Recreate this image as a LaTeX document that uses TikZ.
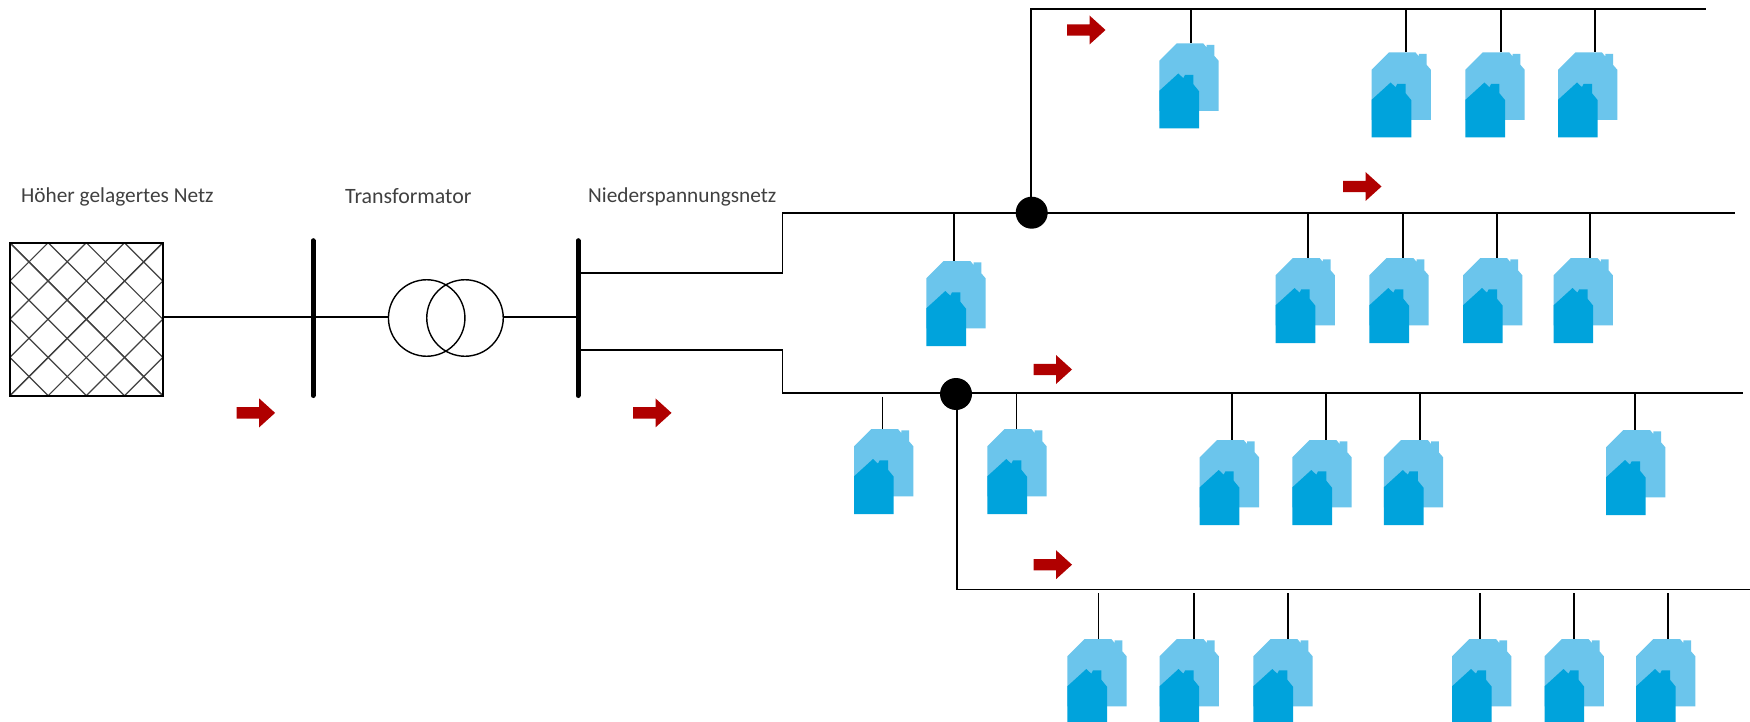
\documentclass[tikz,border=0pt]{standalone}
\usepackage{fontspec}
\setmainfont{Carlito}
\definecolor{houseback}{HTML}{6BC5EC}
\definecolor{housefront}{HTML}{00A3DC}
\definecolor{flowred}{HTML}{B00000}
\definecolor{labelgrey}{HTML}{404040}
\tikzset{
  wire/.style={draw=black,line width=1.8pt},
  thinwire/.style={draw=black,line width=1.8pt},
  busbar/.style={draw=black,line width=5pt,line cap=round},
  junction/.style={circle,fill=black,minimum size=32pt,inner sep=0pt},
  label/.style={anchor=west,inner sep=0pt,font=\fontsize{21.3pt}{24pt}\selectfont,text=labelgrey},
  hatch/.style={draw=black!75,line width=1.2pt},
  pics/house/.style={code={
    \fill[houseback] (0,17.3)--(17.3,0)--(44,0)--(47.3,4)--(47.3,1.3)--(55,1.3)--(55,12.3)--(59.3,17.3)--(59.3,67.3)--(0,67.3)--cycle;
    \fill[housefront] (0,47.3)--(19,30)--(24,34.7)--(25.7,31.3)--(34,31.3)--(34,40.7)--(39.7,47.7)--(39.7,85)--(0,85)--cycle;
  }},
  pics/flow/.style={code={
    \fill[flowred] (-19,-5.7)--(3.5,-5.7)--(3.5,-14.5)--(19.5,0)--(3.5,14.5)--(3.5,5.7)--(-19,5.7)--cycle;
  }}
}
\begin{document}
\begin{tikzpicture}[x=1pt,y=-1pt]
\useasboundingbox (0,0) rectangle (1750,722);
\clip (0,0) rectangle (1750,722);
\fill[white] (0,0) rectangle (1750,722);

% labels
\node[label] (l1) at (21,196.5) {Höher gelagertes Netz};
\node[label,font=\fontsize{21.9pt}{24pt}\selectfont] (l2) at (345,196.5) {Transformator};
\node[label] (l3) at (588,196.5) {Niederspannungsnetz};

% upstream grid
\foreach \k in {1,...,4}{
  \pgfmathsetmacro{\d}{38.18*\k}
  \draw[hatch] (10,242.7+\d) -- (10+\d,242.7);
  \draw[hatch] (162.7-\d,395.7) -- (162.7,395.7-\d);
  \draw[hatch] (10,395.7-\d) -- (10+\d,395.7);
  \draw[hatch] (162.7-\d,242.7) -- (162.7,242.7+\d);
}
\node[draw=black,line width=2pt,minimum width=152.7pt,minimum height=153pt,inner sep=0pt] (grid) at (86.35,319.2) {};

% bus bars
\coordinate (b1a) at (313,240.7);
\coordinate (b1b) at (313,395.5);
\coordinate (b2a) at (578,240.7);
\coordinate (b2b) at (578,395.5);
\draw[busbar] (b1a) -- (b1b);
\draw[busbar] (b2a) -- (b2b);

% transformer
\node[circle,draw=black,line width=1.4pt,minimum size=76.5pt,inner sep=0pt] (t1) at (426.7,318) {};
\node[circle,draw=black,line width=1.4pt,minimum size=76.5pt,inner sep=0pt] (t2) at (465,318) {};
\coordinate (b1m) at (313,317);
\coordinate (b2m) at (578,317);
\draw[wire] (grid.east |- b1m) -- (b1m) -- (t1.west |- b1m);
\draw[wire] (t2.east |- b2m) -- (b2m);

% junctions
\node[junction] (j1) at (1031.7,212.7) {};
\node[junction] (j2) at (956,394) {};

% feeders
\coordinate (b2u) at (578,273.3);
\coordinate (b2l) at (578,349.7);
\coordinate (f1e) at (1735,212.7);
\coordinate (f2e) at (1743,393.3);
\coordinate (f3) at (1030.7,9);
\coordinate (f3e) at (1706,9);
\coordinate (f4) at (956.8,589.5);
\coordinate (f4e) at (1750,589.5);
\draw[wire] (b2u) -- (782.4,273.3) -- (782.4,212.7) -- (f1e);
\draw[wire] (b2l) -- (782.4,349.7) -- (782.4,393.3) -- (f2e);
\draw[wire] (f3 |- j1) -- (f3) -- (f3e);
\draw[wire] (f4 |- j2) -- (f4) -- (f4e);

% houses: stub x / house left / top y / start of stub
\foreach \sx/\hx/\ty/\by in {
  1191/1159.3/43.5/9, 1406/1371.6/52.5/9, 1501/1465.4/52.5/9, 1595/1558/52.5/9,
  954/926.3/261/212.7, 1308/1275.6/258/212.7, 1403/1369.3/258/212.7, 1497/1463/258/212.7, 1590/1553.5/258/212.7,
  882.5/854/429/396.7, 1016.5/987.3/429/393.3, 1232/1199.7/440/393.3, 1326/1292.3/440/393.3, 1420/1383.8/440/393.3, 1635/1606/430/393.3,
  1098.5/1067.3/639/593, 1194/1159.5/639/593, 1288/1253.3/639/593, 1480/1452/639/593, 1574/1544.5/639/593, 1668/1636/639/593}{
  \draw[thinwire] (\sx,\by) -- (\sx,\ty);
  \pic at (\hx,\ty) {house};
}

% flow arrows
\foreach \ax/\ay in {255.6/412.9, 652/412.9, 1086/30, 1362/186.5, 1052.5/369.5, 1052.5/564.7}{
  \pic at (\ax,\ay) {flow};
}
\end{tikzpicture}
\end{document}
